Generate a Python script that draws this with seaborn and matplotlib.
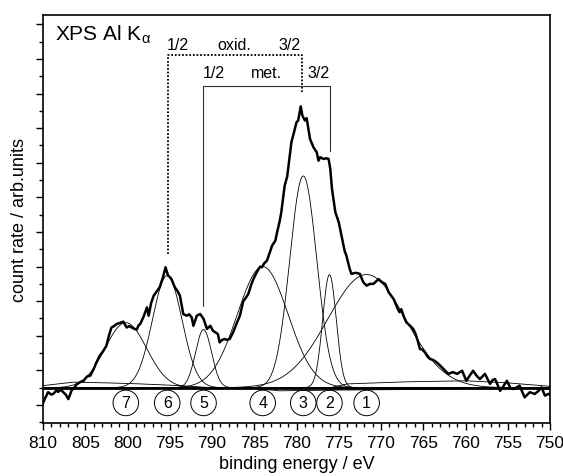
import numpy as np
import pandas as pd
import matplotlib
matplotlib.use('Agg')
import matplotlib.pyplot as plt
from matplotlib.ticker import MultipleLocator
import seaborn as sns

sns.set_theme(style='ticks')
plt.rcParams['font.family'] = ['Liberation Sans', 'DejaVu Sans']
plt.rcParams['mathtext.fontset'] = 'custom'
plt.rcParams['mathtext.rm'] = 'Liberation Sans'
plt.rcParams['mathtext.it'] = 'Liberation Sans:italic'
for key in ['text.color', 'axes.labelcolor', 'xtick.color', 'ytick.color']:
    plt.rcParams[key] = 'black'

energy = [810.0, 809.8, 809.4, 809.0, 808.8, 808.4, 808.2, 807.9, 807.6, 807.3,
          807.0, 806.6, 806.3, 806.0, 805.6, 805.2, 804.8, 804.4, 804.0, 803.7,
          803.3, 802.9, 802.5, 802.2, 801.9, 801.6, 801.3, 800.9, 800.5, 800.1,
          799.8, 799.5, 799.2, 798.9, 798.7, 798.5, 798.1, 797.7, 797.5, 797.2,
          796.9, 796.5, 796.2, 795.8, 795.5, 795.2, 795.0, 794.8, 794.4, 794.1,
          793.8, 793.4, 793.0, 792.7, 792.4, 792.2, 791.8, 791.4, 791.0, 790.6,
          790.2, 789.9, 789.6, 789.3, 789.1, 788.8, 788.5, 788.2, 787.9, 787.5,
          787.1, 786.7, 786.3, 786.1, 785.7, 785.4, 785.1, 784.7, 784.3, 784.1,
          783.8, 783.5, 783.1, 782.9, 782.5, 782.3, 782.0, 781.8, 781.4, 781.1,
          780.8, 780.6, 780.4, 780.0, 779.8, 779.5, 779.3, 779.0, 778.8, 778.4,
          778.0, 777.6, 777.4, 777.2, 776.8, 776.5, 776.2, 776.0, 775.8, 775.4,
          775.0, 774.6, 774.3, 774.1, 773.7, 773.5, 773.0, 772.5, 772.1, 771.7,
          771.3, 770.9, 770.5, 770.3, 769.9, 769.5, 769.1, 768.5, 768.0, 767.8,
          767.6, 767.3, 767.0, 766.6, 766.2, 765.9, 765.6, 765.4, 765.1, 764.8,
          764.5, 764.2, 763.8, 763.4, 763.0, 762.6, 762.2, 762.0, 761.5, 761.0,
          760.4, 759.9, 759.5, 759.1, 758.7, 758.3, 757.7, 757.1, 756.8, 756.5,
          755.9, 755.5, 755.1, 754.7, 754.3, 753.6, 753.0, 752.4, 751.8, 751.4,
          751.0, 750.6, 750.2, 750.0]
counts = [0.05, 0.17, 0.37, 0.30, 0.32, 0.42, 0.38, 0.44, 0.37, 0.30,
          0.17, 0.43, 0.50, 0.60, 0.66, 0.70, 0.82, 0.85, 1.04, 1.22,
          1.42, 1.55, 1.71, 2.00, 2.24, 2.28, 2.34, 2.37, 2.41, 2.24,
          2.28, 2.24, 2.20, 2.18, 2.30, 2.34, 2.55, 2.82, 2.58, 2.95,
          3.16, 3.30, 3.40, 3.69, 3.98, 3.74, 3.70, 3.64, 3.40, 3.30,
          3.16, 2.63, 2.58, 2.62, 2.53, 2.29, 2.58, 2.63, 2.49, 2.20,
          2.29, 2.15, 2.10, 2.05, 1.81, 1.88, 1.91, 1.88, 1.91, 2.10,
          2.35, 2.58, 3.00, 3.06, 3.21, 3.45, 3.64, 3.84, 4.00, 3.98,
          4.10, 4.17, 4.45, 4.60, 4.75, 4.99, 5.30, 5.57, 6.34, 6.60,
          7.21, 7.60, 7.78, 8.17, 8.22, 8.63, 8.36, 8.22, 8.29, 7.69,
          7.45, 7.30, 7.06, 7.16, 7.11, 7.13, 7.11, 6.82, 6.24, 5.57,
          5.28, 4.80, 4.45, 4.32, 3.93, 3.79, 3.82, 3.79, 3.55, 3.45,
          3.50, 3.50, 3.59, 3.64, 3.55, 3.50, 3.26, 3.06, 2.77, 2.68,
          2.77, 2.55, 2.39, 2.30, 2.20, 2.05, 1.81, 1.62, 1.60, 1.52,
          1.40, 1.33, 1.30, 1.23, 1.14, 1.04, 0.94, 0.90, 0.95, 0.90,
          0.99, 0.70, 0.85, 0.99, 0.85, 0.75, 0.90, 0.61, 0.72, 0.75,
          0.41, 0.55, 0.70, 0.50, 0.46, 0.56, 0.22, 0.37, 0.32, 0.40,
          0.51, 0.27, 0.32, 0.30]

# fitted components: label, position (eV), height above base, width (eV)
peak_labels = ['1', '2', '3', '4', '5', '6', '7']
peak_center = [771.7, 776.1, 779.2, 784.0, 791.0, 795.3, 800.2]
peak_height = [3.27, 3.27, 6.12, 3.50, 1.68, 3.24, 1.88]
peak_sigma = [4.6, 0.8, 1.6, 3.0, 0.95, 1.75, 2.46]
base_level = 0.5

# background lines near the base
bg_upper_left_e = [810.0, 806.4, 802.5, 798.5, 793.8, 790.0]
bg_upper_left_y = [0.56, 0.66, 0.64, 0.61, 0.56, 0.50]
bg_upper_right_e = [776.0, 774.0, 767.0, 760.0, 755.0, 750.0]
bg_upper_right_y = [0.50, 0.61, 0.67, 0.70, 0.64, 0.54]
bg_lower_e = [786.0, 782.0, 776.0, 765.0, 755.0, 750.0]
bg_lower_y = [0.50, 0.41, 0.43, 0.45, 0.48, 0.51]


def gauss(e, c, h, s):
    return h * np.exp(-(e - c) ** 2 / (2 * s ** 2))


def main():
    fig = plt.figure(figsize=(5.63, 4.77), dpi=100)
    ax = fig.add_axes([43 / 563, 53 / 477, 507 / 563, 408 / 477])

    grid = np.linspace(810, 750, 601)
    for c, h, s in zip(peak_center, peak_height, peak_sigma):
        sns.lineplot(x=grid, y=base_level + gauss(grid, c, h, s), ax=ax,
                     color='black', lw=0.6, sort=False, estimator=None)

    for e, y in [(bg_upper_left_e, bg_upper_left_y),
                 (bg_upper_right_e, bg_upper_right_y),
                 (bg_lower_e, bg_lower_y)]:
        ax.plot(e, y, color='black', lw=0.6)
    ax.axhline(base_level, color='black', lw=2.0)

    spec = pd.DataFrame({'energy': energy, 'counts': counts})
    sns.lineplot(data=spec, x='energy', y='counts', ax=ax, color='black',
                 lw=1.8, sort=False, estimator=None)

    # circled peak numbers
    for lab, c in zip(peak_labels, peak_center):
        ax.text(c, 0.06, lab, ha='center', va='center', fontsize=11.5,
                bbox=dict(boxstyle='circle,pad=0.33', fc='none', ec='black',
                          lw=0.7))

    # spin-orbit brackets
    ax.plot([795.2, 795.2, 779.4, 779.4], [4.36, 10.12, 10.12, 9.05],
            color='black', lw=1.3, ls=(0, (1, 1)))
    ax.plot([791.1, 791.1, 776.0, 776.0], [2.86, 9.23, 9.23, 7.34],
            color='#333333', lw=0.8)
    for x, t in [(794.0, '1/2'), (787.4, 'oxid.'), (780.8, '3/2')]:
        ax.text(x, 10.30, t, ha='center', va='baseline', fontsize=11.5)
    for x, t in [(789.8, '1/2'), (783.5, 'met.'), (777.4, '3/2')]:
        ax.text(x, 9.47, t, ha='center', va='baseline', fontsize=11.5)

    ax.text(0.024, 0.953, r'XPS Al K$_{\mathrm{\alpha}}$',
            transform=ax.transAxes, ha='left', va='center', fontsize=15)

    ax.set_xlim(810, 750)
    ax.set_ylim(-0.52, 11.27)
    ax.xaxis.set_major_locator(MultipleLocator(5))
    ax.xaxis.set_minor_locator(MultipleLocator(1))
    ax.yaxis.set_major_locator(MultipleLocator(1))
    ax.yaxis.set_minor_locator(MultipleLocator(0.5))
    ax.set_yticklabels([])
    ax.tick_params(which='both', direction='out', color='black', width=1.0,
                   top=False, right=False)
    ax.tick_params(which='major', length=5, labelsize=12.5, pad=4)
    ax.tick_params(which='minor', length=3)
    for sp in ax.spines.values():
        sp.set_linewidth(1.2)
        sp.set_color('black')

    ax.set_xlabel('binding energy / eV', fontsize=13, labelpad=3)
    ax.set_ylabel('count rate / arb.units', fontsize=13, labelpad=2)

    fig.savefig('out.png', dpi=100)


if __name__ == '__main__':
    main()
